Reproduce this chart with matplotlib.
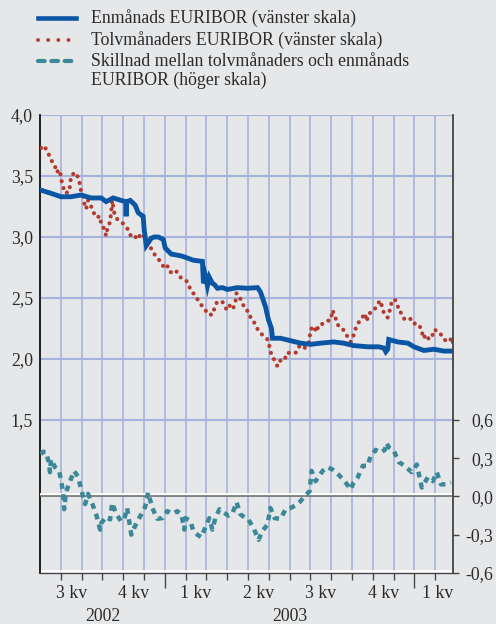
import matplotlib
matplotlib.use('Agg')
from matplotlib import pyplot as plt
from matplotlib.lines import Line2D
import matplotlib.transforms as mtransforms

plt.rcParams['font.family'] = ['Liberation Serif', 'DejaVu Serif']

# x = months since 1 July 2002
m1_x = [0.03, 0.53, 1.01, 1.49, 1.98, 2.46, 2.94, 3.18, 3.52, 3.90, 4.12, 4.14, 4.17,
        4.34, 4.58, 4.72, 4.87, 4.96, 5.01, 5.11, 5.35, 5.49, 5.69, 5.93, 6.02, 6.31,
        6.65, 6.89, 7.37, 7.81, 7.86, 7.95, 8.05, 8.14, 8.29, 8.39, 8.53, 8.77, 9.01,
        9.49, 9.98, 10.46, 10.60, 10.84, 10.99, 11.13, 11.18, 11.57, 12.05, 12.53,
        13.01, 13.49, 14.12, 14.60, 15.08, 15.76, 16.29, 16.53, 16.63, 16.72, 16.77,
        17.20, 17.69, 17.98, 18.46, 18.94, 19.42, 19.86]
m1_v = [3.385, 3.358, 3.33, 3.33, 3.344, 3.32, 3.32, 3.29, 3.32, 3.30, 3.29, 3.17, 3.29,
        3.30, 3.26, 3.20, 3.18, 3.17, 3.06, 2.93, 2.99, 3.00, 3.00, 2.98, 2.91, 2.86,
        2.85, 2.84, 2.81, 2.80, 2.62, 2.68, 2.60, 2.67, 2.62, 2.61, 2.58, 2.585, 2.57,
        2.585, 2.58, 2.585, 2.55, 2.43, 2.32, 2.25, 2.17, 2.17, 2.15, 2.13,
        2.12, 2.13, 2.14, 2.13, 2.11, 2.10, 2.10, 2.09, 2.06, 2.08, 2.16,
        2.14, 2.13, 2.10, 2.07, 2.08, 2.065, 2.065]

m12_x = [0.05, 0.19, 0.39, 0.53, 0.72, 0.77, 0.96, 1.01, 1.11, 1.20, 1.40, 1.45, 1.49,
         1.69, 1.88, 1.93, 2.07, 2.12, 2.22, 2.31, 2.46, 2.55, 2.70, 2.89, 2.94, 3.08,
         3.18, 3.23, 3.33, 3.42, 3.47, 3.57, 3.66, 3.86, 4.00, 4.10, 4.24, 4.39, 4.53,
         4.72, 4.82, 4.92, 5.11, 5.30, 5.45, 5.59, 5.78, 5.93, 6.07, 6.27, 6.51, 6.75,
         6.99, 7.13, 7.23, 7.37, 7.57, 7.81, 7.95, 8.14, 8.34, 8.39, 8.53, 8.77, 8.92,
         9.01, 9.16, 9.30, 9.40, 9.45, 9.59, 9.78, 9.93, 10.02, 10.22, 10.27, 10.41,
         10.55, 10.75, 10.94, 11.04, 11.13, 11.28, 11.42, 11.57, 11.76, 11.86, 12.05,
         12.29, 12.43, 12.63, 12.72, 12.92, 12.96, 13.01, 13.16, 13.30, 13.40, 13.64,
         13.78, 13.98, 14.07, 14.22, 14.31, 14.51, 14.65, 14.80, 14.94, 15.04, 15.13,
         15.28, 15.47, 15.61, 15.71, 15.81, 15.95, 16.19, 16.34, 16.43, 16.53, 16.63,
         16.72, 16.82, 16.92, 17.06, 17.20, 17.25, 17.40, 17.54, 17.88, 18.02, 18.17,
         18.36, 18.41, 18.60, 18.70, 18.89, 18.94, 19.13, 19.28, 19.37, 19.52, 19.66,
         19.81, 19.90]
m12_v = [3.73, 3.75, 3.69, 3.63, 3.59, 3.53, 3.55, 3.48, 3.41, 3.36, 3.37, 3.43, 3.50,
         3.53, 3.475, 3.40, 3.34, 3.28, 3.23, 3.30, 3.25, 3.21, 3.16, 3.17, 3.10, 3.07,
         3.01, 3.06, 3.10, 3.19, 3.30, 3.20, 3.155, 3.125, 3.11, 3.09, 3.06, 3.00, 3.01,
         2.98, 3.02, 3.03, 2.98, 2.92, 2.87, 2.84, 2.80, 2.76, 2.78, 2.71, 2.73, 2.67,
         2.65, 2.62, 2.57, 2.54, 2.49, 2.43, 2.40, 2.36, 2.37, 2.43, 2.47, 2.47, 2.42,
         2.40, 2.45, 2.42, 2.47, 2.54, 2.51, 2.44, 2.42, 2.36, 2.33, 2.31, 2.26,
         2.22, 2.19, 2.16, 2.10, 2.03, 1.99, 1.94, 1.99, 1.99, 2.05, 2.05,
         2.05, 2.10, 2.11, 2.09, 2.12, 2.17, 2.24, 2.27, 2.22, 2.28, 2.29,
         2.31, 2.32, 2.40, 2.33, 2.28, 2.26, 2.22, 2.18, 2.14, 2.17, 2.23,
         2.29, 2.33, 2.375, 2.31, 2.375, 2.38, 2.43, 2.48, 2.44, 2.38, 2.35,
         2.34, 2.40, 2.47, 2.49, 2.44, 2.39, 2.375, 2.32, 2.33, 2.29, 2.29,
         2.24, 2.17, 2.20, 2.16, 2.20, 2.24, 2.23, 2.20, 2.17, 2.15, 2.14,
         2.175, 2.11]

spread_x = [0.05, 0.14, 0.29, 0.43, 0.48, 0.53, 0.72, 0.92, 1.01, 1.11, 1.16, 1.25, 1.45,
            1.64, 1.83, 1.98, 2.17, 2.31, 2.51, 2.70, 2.89, 2.94, 3.18, 3.37, 3.47, 3.66,
            3.90, 4.05, 4.19, 4.39, 4.63, 4.87, 5.06, 5.20, 5.40, 5.64, 5.88, 6.12, 6.41,
            6.60, 6.80, 6.94, 6.99, 7.23, 7.37, 7.57, 7.76, 7.95, 8.14, 8.29, 8.43, 8.63,
            8.82, 9.06, 9.25, 9.45, 9.64, 9.88, 10.02, 10.27, 10.51, 10.70, 10.94, 11.08,
            11.28, 11.57, 11.81, 12.05, 12.29, 12.48, 12.67, 12.96, 13.06, 13.25, 13.59,
            13.83, 14.07, 14.36, 14.65, 14.94, 15.08, 15.28, 15.52, 15.76, 15.90, 16.14,
            16.39, 16.58, 16.67, 16.77, 17.01, 17.25, 17.49, 17.88, 18.12, 18.36, 18.65,
            18.89, 19.08, 19.28, 19.52, 19.76]
spread_v = [0.33, 0.35, 0.35, 0.26, 0.19, 0.29, 0.23, 0.20, 0.13, 0.03, -0.10, 0.035, 0.12,
            0.20, 0.155, 0.055, -0.06, 0.02, -0.055, -0.14, -0.26, -0.21, -0.16, -0.18, -0.05, -0.135,
            -0.195, -0.18, -0.09, -0.30, -0.21, -0.14, -0.08, 0.03, -0.09, -0.175, -0.17, -0.115, -0.135,
            -0.115, -0.14, -0.26, -0.17, -0.19, -0.27, -0.30, -0.32, -0.24, -0.17, -0.26, -0.17, -0.10,
            -0.125, -0.15, -0.135, -0.045, -0.14, -0.17, -0.18, -0.25, -0.34, -0.27, -0.22, -0.09,
            -0.17, -0.175, -0.10, -0.09, -0.07, -0.045, -0.01, 0.04, 0.20, 0.12, 0.20,
            0.23, 0.21, 0.17, 0.12, 0.055, 0.11, 0.15, 0.24, 0.24, 0.32, 0.365,
            0.345, 0.365, 0.42, 0.385, 0.36, 0.27, 0.245, 0.19, 0.25, 0.07, 0.15,
            0.12, 0.19, 0.095, 0.095, 0.11]

quarter_labels = ['3 kv', '4 kv', '1 kv', '2 kv', '3 kv', '4 kv', '1 kv']
quarter_pos = [1.5, 4.5, 7.5, 10.5, 13.5, 16.5, 19.1]
year_labels = ['2002', '2003']
year_pos = [3.0, 12.0]

left_ticks = [1.5, 2.0, 2.5, 3.0, 3.5, 4.0]
right_ticks = [-0.6, -0.3, 0.0, 0.3, 0.6]

bg = '#e6e7e9'
grid_c = '#a6b3de'
blue = '#0a56a5'
red = '#b33a2e'
teal = '#3b8998'
txt = '#2b2b2b'
fs = 12.8
W, H = 496, 624

fig = plt.figure(figsize=(W / 100, H / 100), dpi=100, facecolor=bg)
ax = fig.add_axes([40 / W, 51 / H, 413 / W, 458 / H])
ax.set_facecolor(bg)
ax.set_xlim(0, 19.86)
ax.set_ylim(0.246, 4.0)

# grid
ax.set_xticks([6, 18])
ax.set_xticks(range(1, 20), minor=True)
ax.set_xticklabels([])
ax.set_yticks(left_ticks)
ax.set_yticklabels([f'{t:.1f}'.replace('.', ',') for t in left_ticks])
ax.grid(True, which='both', axis='x', color=grid_c, lw=1.2)
ax.grid(True, which='major', axis='y', color=grid_c, lw=1.5)
ax.set_axisbelow(True)
ax.tick_params(axis='y', length=0, pad=5, labelsize=fs, labelcolor=txt)
ax.tick_params(axis='x', which='major', length=11, width=1, color='#444444', direction='out')
ax.tick_params(axis='x', which='minor', length=5, width=1, color='#444444', direction='out')
for s in ['top', 'right']:
    ax.spines[s].set_visible(False)
ax.spines['left'].set_color('#111111')
ax.spines['left'].set_linewidth(1.3)
ax.spines['bottom'].set_color('#444444')
ax.spines['bottom'].set_linewidth(1.0)
ax.axhline(0.262, color='white', lw=2, zorder=1)

ax.plot(m12_x, m12_v, color=red, lw=3.0, linestyle=(0, (0.01, 1.7)),
        dash_capstyle='round', zorder=3)
ax.plot(m1_x, m1_v, color=blue, lw=3.5, solid_joinstyle='miter', zorder=4)

ax2 = ax.twinx()
ax2.set_ylim(-0.6, 2.99)
ax2.set_yticks(right_ticks)
ax2.set_yticklabels([f'{t:.1f}'.replace('.', ',') for t in right_ticks])
for t in ax2.get_yticklabels():
    t.set_horizontalalignment('right')
ax2.tick_params(axis='y', length=4, width=1, color='#444444', pad=25,
                labelsize=fs, labelcolor=txt)
for s in ['top', 'left', 'bottom']:
    ax2.spines[s].set_visible(False)
ax2.spines['right'].set_color('#444444')
ax2.spines['right'].set_linewidth(1.3)
ax2.axhline(0.02, color='white', lw=2, zorder=1)
ax2.axhline(0.0, color='#666666', lw=1.1, zorder=2)
ax2.plot(spread_x, spread_v, color=teal, lw=3.2, linestyle=(0, (1.3, 1.2)), zorder=3)

# axis labels under the months
trans = mtransforms.blended_transform_factory(ax.transData, ax.transAxes)
for p, lab in zip(quarter_pos, quarter_labels):
    ax.text(p, -0.045, lab, transform=trans, ha='center', va='center',
            fontsize=fs, color=txt)
for p, lab in zip(year_pos, year_labels):
    ax.text(p, -0.095, lab, transform=trans, ha='center', va='center',
            fontsize=fs, color=txt)

# legend
leg_items = [
    (blue, '-', 3.3, 18, 'Enmånads EURIBOR (vänster skala)'),
    (red, (0, (0.01, 2.6)), 2.8, 40, 'Tolvmånaders EURIBOR (vänster skala)'),
    (teal, (0, (1.6, 1.6)), 3.0, 61, 'Skillnad mellan tolvmånaders och enmånads'),
]
for c, ls, lw, y, lab in leg_items:
    fig.add_artist(Line2D([38 / W, 76 / W], [1 - y / H, 1 - y / H], color=c, lw=lw,
                          linestyle=ls, dash_capstyle='round', transform=fig.transFigure))
    fig.text(91 / W, 1 - y / H, lab, ha='left', va='center', fontsize=fs, color=txt)
fig.text(91 / W, 1 - 80 / H, 'EURIBOR (höger skala)', ha='left', va='center',
         fontsize=fs, color=txt)

fig.savefig('out.png', dpi=100, facecolor=bg)
